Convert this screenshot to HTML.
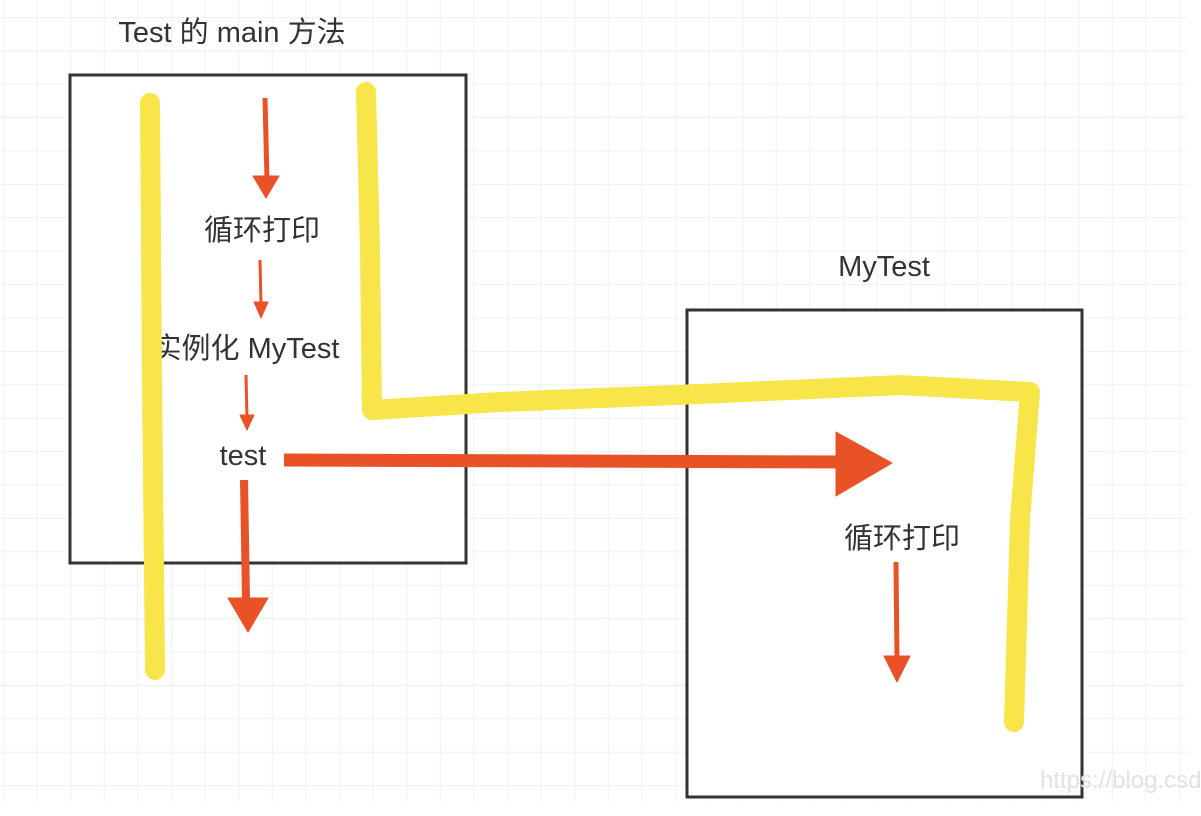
<!DOCTYPE html>
<html><head><meta charset="utf-8"><style>
html,body{margin:0;padding:0;background:#fff;width:1201px;height:816px;overflow:hidden}
svg text{font-family:"Liberation Sans","Noto Sans CJK SC",sans-serif;fill:#333}
</style></head><body>
<svg width="1201" height="816" viewBox="0 0 1201 816" xmlns="http://www.w3.org/2000/svg">
<defs>
<pattern id="g" x="3" y="17" width="33.6" height="33.4" patternUnits="userSpaceOnUse">
<path d="M0 0H33.6M0 0V33.4" stroke="#ebebeb" stroke-width="1.5" fill="none"/>
</pattern>
</defs>
<rect x="0" y="0" width="1188" height="802" fill="url(#g)"/>
<rect x="70" y="75" width="396" height="488" fill="#fff" stroke="#333" stroke-width="3"/>
<rect x="687" y="310" width="395" height="487" fill="#fff" stroke="#333" stroke-width="3"/>
<text x="232" y="42" font-size="29" text-anchor="middle">Test 的 main 方法</text>
<text x="884" y="276" font-size="29" text-anchor="middle">MyTest</text>
<text x="262" y="240" font-size="29" text-anchor="middle">循环打印</text>
<text x="246" y="358" font-size="29" text-anchor="middle">实例化 MyTest</text>
<text x="243" y="465" font-size="29" text-anchor="middle">test</text>
<text x="902" y="548" font-size="29" text-anchor="middle">循环打印</text>
<text x="1040" y="788" font-size="24" style="fill:#e2e2e2">https://blog.csdn</text>
<g stroke="#f7e54a" stroke-width="20" stroke-linecap="round" stroke-linejoin="round" fill="none">
<path d="M150 103 L152 380 L155 670"/>
<path d="M366 92 L370 250 L372 410 L500 402 L700 394 L900 385 L1030 392 L1020 520 L1014 722"/>
</g>
<g fill="#e95226" stroke="#e95226" stroke-linejoin="round">
<path d="M265 98 L267 180" stroke-width="5"/><path d="M253 176 L279 176 L266 198Z"/>
<path d="M260 260 L261 305" stroke-width="3"/><path d="M254 302 L268 302 L261 318Z"/>
<path d="M246 375 L247 418" stroke-width="3"/><path d="M240 415 L254 415 L247 430Z"/>
<path d="M244 480 L246 600" stroke-width="8"/><path d="M228 598 L268 598 L248 632Z"/>
<path d="M284 460 L850 462" stroke-width="13"/><path d="M836 432 L892 463 L836 496Z"/>
<path d="M896 562 L897 660" stroke-width="5"/><path d="M884 656 L910 656 L897 682Z"/>
</g>
</svg>
</body></html>
